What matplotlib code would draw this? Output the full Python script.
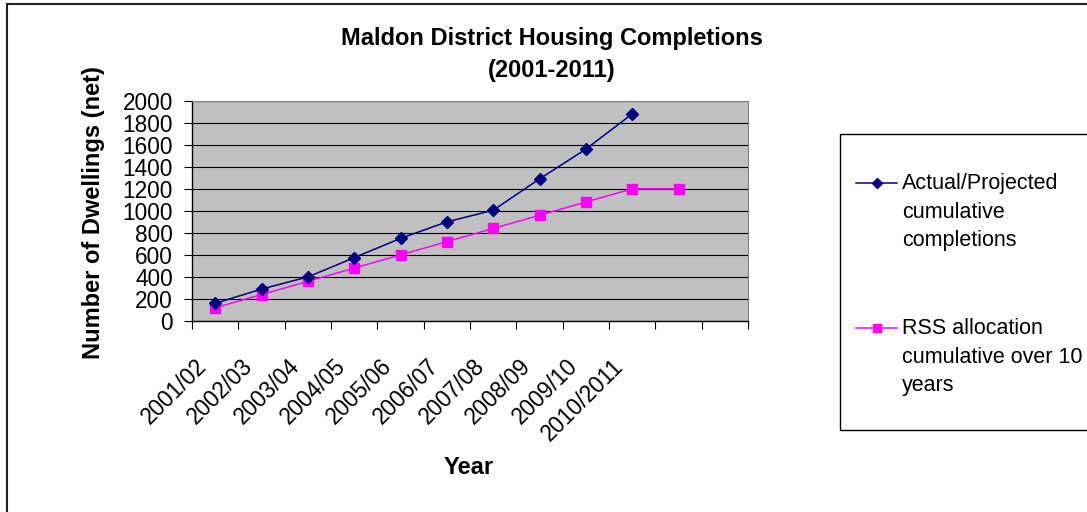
import matplotlib
matplotlib.use("Agg")
import matplotlib.pyplot as plt
from matplotlib.patches import Rectangle
from matplotlib.lines import Line2D
from matplotlib.ticker import FixedLocator, MultipleLocator, NullFormatter
import matplotlib.transforms as mtrans

# Financial years on the category axis (12 slots, 10 labelled)
years = ["2001/02", "2002/03", "2003/04", "2004/05", "2005/06",
         "2006/07", "2007/08", "2008/09", "2009/10", "2010/2011"]
n_slots = 12

# Cumulative dwellings (net)
actual_projected = [160, 290, 400, 575, 750, 900, 1005, 1290, 1560, 1880]
rss_allocation = [120, 240, 360, 480, 600, 720, 840, 960, 1080, 1200, 1200]

series_names = ["Actual/Projected\ncumulative\ncompletions",
                "RSS allocation\ncumulative over 10\nyears"]

NAVY = "#000080"
MAGENTA = "#FF00FF"

W, H = 1087, 512
plt.rcParams['font.family'] = ['Liberation Sans', 'DejaVu Sans']
fig = plt.figure(figsize=(W / 100, H / 100), dpi=100)


def fx(x):
    return x / W


def fy(y):
    return 1 - y / H


# Chart-area border
fig.add_artist(Rectangle((fx(7), -0.1), 1.2, fy(4) + 0.1, transform=fig.transFigure,
                         fill=False, edgecolor="#222222", lw=1.5))

ax = fig.add_axes([fx(192), fy(321), (748 - 192) / W, (321 - 100.7) / H])
ax.set_facecolor("#C0C0C0")

xa = [i + 0.5 for i in range(len(actual_projected))]
xr = [i + 0.5 for i in range(len(rss_allocation))]
ax.plot(xa, actual_projected, color=NAVY, marker="D", ms=5.8, lw=1.1, zorder=4,
        clip_on=False)
ax.plot(xr, rss_allocation, color=MAGENTA, marker="s", ms=7, lw=1.1, zorder=3,
        clip_on=False)

ax.set_xlim(0, n_slots)
ax.set_ylim(0, 2000)
ax.yaxis.set_major_locator(MultipleLocator(200))
ax.grid(axis="y", color="black", lw=0.8)
ax.set_axisbelow(True)

ax.xaxis.set_major_locator(FixedLocator(range(n_slots + 1)))
ax.xaxis.set_major_formatter(NullFormatter())
ax.xaxis.set_minor_locator(FixedLocator([i + 0.5 for i in range(len(years))]))
ax.set_xticklabels(years, minor=True, rotation=45, ha="right", va="center",
                   rotation_mode="anchor", fontsize=16.3)
ax.tick_params(axis="x", which="minor", length=0, pad=30)
ax.tick_params(which="major", direction="out", length=5.8, width=0.8, color="black",
               labelsize=16.3)
ax.tick_params(axis="y", pad=8)

shift = mtrans.ScaledTranslation(-12 / 100, 0, fig.dpi_scale_trans)
for lab in ax.xaxis.get_minorticklabels():
    lab.set_transform(lab.get_transform() + shift)

for side in ("top", "right"):
    ax.spines[side].set_color("#808080")
for side in ("left", "bottom"):
    ax.spines[side].set_color("black")
    ax.spines[side].set_linewidth(1.0)

# Titles
fig.text(fx(552), fy(54.5), "Maldon District Housing Completions\n(2001-2011)",
         ha="center", va="center", fontsize=17, fontweight="bold", linespacing=1.45)
fig.text(fx(94), fy(213), "Number of Dwellings (net)", rotation=90,
         ha="center", va="center", fontsize=17, fontweight="bold")
fig.text(fx(469), fy(467), "Year", ha="center", va="center",
         fontsize=17, fontweight="bold")

# Legend box
fig.add_artist(Rectangle((fx(840), fy(430)), 1.0, (430 - 134) / H,
                         transform=fig.transFigure, facecolor="white",
                         edgecolor="black", lw=1.0))
legend_rows = [(183, NAVY, "D", 5.0, series_names[0]),
               (328, MAGENTA, "s", 6.0, series_names[1])]
for ypx, col, mk, ms, name in legend_rows:
    fig.add_artist(Line2D([fx(856), fx(876.5), fx(897)], [fy(ypx)] * 3,
                          transform=fig.transFigure, color=col, lw=1.1,
                          marker=mk, ms=ms, markevery=[1]))
    fig.text(fx(902), fy(ypx - 10), name, ha="left", va="top", fontsize=15.5,
             linespacing=1.47)

fig.savefig("out.png", dpi=100)
